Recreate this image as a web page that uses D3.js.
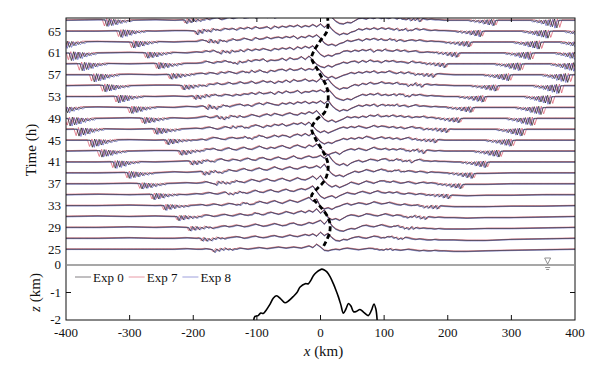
<!DOCTYPE html>
<html>
<head>
<meta charset="utf-8">
<script src="https://cdn.jsdelivr.net/npm/d3@7"></script>
<style>
	body { margin: 0; background: #fff; }
	svg { display: block; }
	text { font-family: "Liberation Serif", "Times New Roman", serif; fill: #111; }
</style>
</head>
<body>
<svg id="chart" width="599" height="366"></svg>
<script>

// ---- data ----

// trace times (h), one trace every 2 h
var times = [25, 27, 29, 31, 33, 35, 37, 39, 41, 43, 45, 47, 49, 51, 53, 55, 57, 59, 61, 63, 65, 67];
var timeTicks = [25, 29, 33, 37, 41, 45, 49, 53, 57, 61, 65];
var xTicks = [-400, -300, -200, -100, 0, 100, 200, 300, 400];
var zTicks = [0, -1, -2];

var expNames = ['Exp 0', 'Exp 7', 'Exp 8'];
var expColors = ['#2e2a30', '#d9566a', '#5f63c4'];
// relative stretch of each experiment's wave field (fronts travel a bit faster / slower)
var expStretch = [0, 0.012, -0.008];

// x stations (km) where the surface signal was read
var wigGrid = [-400, -350, -300, -260, -230, -210, -195,
	-186, -180, -174, -168, -162, -156, -150, -144, -138, -132,
	-126, -120, -114, -108, -102, -96, -90, -84, -78, -72,
	-66, -60, -54, -48, -42, -36, -30, -24, -18, -12,
	-6, 0, 6, 12, 18, 24, 30, 36, 42, 48,
	54, 60, 66, 72, 78, 84, 90, 96, 102, 108,
	114, 120, 126, 132, 138, 144, 150, 156, 162, 168,
	174, 180, 186,
	195, 210, 230, 260, 300, 350, 400];

// surface signal of Exp 0 at those stations, one row per trace (0.1 h units)
var wiggles = [
	[0,0,0,0,0,1,0, 0,1,0,-1,0,1,2,1,0,1, 2,1,0,1,2,3,2,1,2,3, 4,3,2,3,4,3,2,4,6,3, 9,4,-2,-3,-1,0,-1,1,2,1, 0,-1,0,1,2,1,0,-1,0,1, 0,-1,-2,-1,0,-1,-2,-3,-2,-3, -3,-2,-3, -3,-4,-4,-3,-2,-1,0],
	[0,0,1,0,0,1,0, 1,0,-1,0,2,1,0,1,2,3, 2,0,1,3,4,2,1,2,4,5, 3,2,4,6,4,3,5,7,5,8, 4,11,5,9,1,-4,-5,-2,-3,0, 2,3,1,0,2,4,3,1,2,4, 3,1,0,2,1,-1,-2,-1,-2,-3, -3,-2,-3, -3,-3,-4,-4,-2,-1,0],
	[0,0,1,0,1,0,1, 0,2,1,-1,0,2,3,1,2,4, 3,1,2,4,6,4,2,3,5,7, 5,3,4,7,8,5,4,6,9,7, 10,13,6,14,3,-3,-6,-7,-4,-2, -3,0,3,4,2,1,3,5,3,1, 2,4,2,0,-1,1,0,-2,-1,-2, -2,-3,-2, -3,-3,-3,-2,-2,-1,0],
	[0,1,0,1,0,1,0, 1,3,2,0,1,3,4,2,1,3, 5,3,2,4,7,5,3,6,8,6, 4,6,9,7,5,8,10,7,11,8, 14,6,12,-2,-6,-4,-7,-3,1,3, 2,0,2,5,4,2,1,3,5,3, 1,3,2,0,-1,1,2,0,-1,0, -1,-2,-1, -2,-2,-3,-2,-2,-1,0],
	[0,0,1,0,1,0,1, 2,0,1,3,2,0,2,4,3,1, 3,6,4,2,5,8,6,4,7,9, 6,4,7,10,8,6,9,12,15,8, 12,-2,-6,-4,-7,-3,-1,2,4,1, 3,5,4,2,4,7,5,3,4,6, 4,2,1,3,1,0,2,1,-1,-1, 0,-1,0, -1,-2,-2,-2,-1,-1,0],
	[0,1,0,1,1,0,2, 1,3,4,2,1,3,5,3,2,4, 6,4,3,6,8,5,4,7,9,6, 5,8,10,7,6,9,11,9,12,16, 6,-3,-7,-4,-2,-6,-2,1,4,2, 1,4,6,4,2,5,7,4,3,5, 3,5,2,1,3,2,0,2,1,0, 1,0,1, 0,-1,-2,-1,-1,0,0],
	[0,0,1,0,1,2,1, 2,4,2,0,3,5,3,2,4,6, 4,2,5,8,6,4,7,9,6,5, 8,10,7,5,8,11,8,7,10,14, 8,15,5,-2,-6,-3,-7,-4,-1,3, 1,-1,2,5,3,1,4,6,5,3, 5,3,1,2,4,2,0,2,3,1, 2,1,0, 0,-1,-1,-1,0,0,0],
	[0,0,1,0,2,1,2, 3,1,2,5,3,1,3,6,4,3, 6,8,5,4,7,9,6,5,8,11, 8,6,9,11,8,7,10,12,9,10, 13,9,16,6,-2,-6,-4,-7,-3,0, 3,1,3,6,4,2,5,7,5,3, 4,6,4,2,4,3,1,3,2,0, 2,1,1, 0,0,-1,-1,0,0,0],
	[0,0,1,0,1,2,1, 2,5,3,1,4,6,3,2,5,4, 2,5,7,4,3,7,8,5,4,7, 9,6,5,8,11,7,6,9,11,8, 9,12,7,14,4,-3,-6,-3,-7,-2, 1,3,0,2,5,4,2,5,6,3, 3,6,4,2,4,1,3,5,2,2, 1,2,1, 1,0,0,0,0,0,0],
	[0,1,0,1,1,0,2, 1,4,3,5,2,1,4,6,3,2, 5,7,4,3,6,9,6,4,7,5, 8,10,7,5,9,11,8,6,11,8, 13,6,-3,-7,-4,-2,-6,-1,2,4, 2,5,3,1,4,7,4,3,5,2, 4,2,5,3,1,2,4,2,0,2, 1,0,1, 0,0,0,0,0,0,0],
	[0,0,1,0,1,1,0, 2,0,3,5,4,2,1,4,5,3, 4,7,5,3,6,9,7,4,6,9, 6,9,8,5,9,11,8,12,8,14, 5,-3,-7,-4,-6,-2,0,3,1,4, 2,5,3,7,5,2,4,6,3,5, 2,4,1,3,5,2,3,1,2,1, 2,1,1, 0,0,0,0,0,0,0],
	[0,1,0,1,0,1,2, 1,3,4,2,0,2,5,3,6,4, 7,4,3,6,8,6,3,7,5,9, 7,10,6,8,11,9,12,8,13,6, -2,-6,-3,-7,-4,-1,2,4,2,5, 3,6,4,2,4,7,4,6,5,3, 5,2,4,1,3,5,2,3,0,2, 1,2,1, 1,0,0,0,0,0,0],
	[0,0,1,0,1,0,1, 3,4,1,2,5,3,1,4,6,3, 5,2,4,7,5,3,6,8,5,9, 7,5,8,10,7,6,10,8,12,9, 14,6,-2,-6,-3,-7,-4,-1,3,1, 3,1,4,2,6,4,7,3,5,4, 6,3,5,2,4,1,3,2,4,1, 2,1,1, 0,0,0,0,0,0,0],
	[0,1,0,1,0,2,1, 3,1,4,2,0,4,5,2,3,5, 6,3,5,2,6,8,5,9,7,5, 4,8,6,9,6,10,8,11,7,10, 8,12,7,13,3,-3,-7,-4,-6,-2, 1,4,2,5,3,6,2,6,4,5, 4,6,3,4,1,3,5,2,3,2, 1,2,1, 1,0,0,0,0,0,0],
	[0,0,1,0,1,0,2, 1,4,2,5,3,1,4,3,1,4, 2,5,4,7,4,8,5,6,8,4, 9,6,10,7,8,11,6,9,8,11, 9,12,8,14,6,-2,-5,-7,-4,-6, -2,1,4,2,5,3,6,2,4,2, 5,3,6,3,1,4,2,4,2,1, 2,1,1, 0,0,0,0,0,0,0],
	[0,1,0,1,1,0,1, 2,0,3,2,5,2,3,6,3,4, 7,4,5,8,4,6,9,6,8,4, 8,6,10,6,11,8,9,12,8,10, 7,13,8,12,3,-3,-7,-4,-5,-1, 2,0,4,2,6,3,4,7,4,5, 3,6,3,4,1,3,5,2,2,3, 1,2,1, 1,0,0,0,0,0,0],
	[0,0,1,0,1,1,2, 3,1,4,3,1,5,3,6,4,2, 5,7,4,8,5,9,6,4,8,6, 9,10,7,11,8,9,12,8,11,9, 14,7,-2,-6,-3,-7,-4,-1,1,4, 2,5,3,6,4,7,3,5,4,7, 4,2,5,2,5,3,1,3,1,2, 1,1,2, 1,0,0,0,0,0,0],
	[0,1,0,1,0,1,1, 2,5,3,1,4,3,6,3,4,1, 5,3,7,5,8,6,9,4,7,6, 7,10,6,11,8,9,13,8,14,7, -1,-5,-7,-3,-6,-2,0,3,1,4, 5,2,6,3,7,4,5,2,6,4, 6,3,4,3,1,5,2,3,2,1, 2,1,1, 0,0,0,0,0,0,0],
	[0,0,1,0,1,0,2, 1,4,2,5,1,3,5,2,5,3, 6,3,7,4,7,5,8,6,4,8, 6,9,7,10,6,11,8,12,9,13, 5,-3,-7,-4,-6,-2,-1,3,4,2, 5,3,6,4,7,2,6,4,7,4, 3,6,3,5,2,3,4,1,1,2, 1,2,1, 1,0,0,0,0,0,0],
	[0,1,0,1,0,1,1, 4,2,5,3,1,5,2,3,6,3, 4,7,5,3,8,5,6,9,6,8, 9,7,10,8,11,6,10,8,12,9, 13,7,-2,-6,-4,-7,-3,-1,3,1, 3,5,2,6,4,7,4,6,3,6, 5,3,4,1,3,4,2,4,2,1, 2,1,1, 0,0,0,0,0,0,0],
	[0,0,1,0,1,1,0, 2,4,1,5,3,2,5,3,5,2, 6,4,7,4,8,5,6,8,4,9, 6,9,7,10,8,11,7,10,8,12, 8,13,7,12,3,-3,-7,-4,-6,-2, 0,4,2,5,3,6,3,6,4,6, 3,5,2,5,3,1,5,2,4,2, 1,2,1, 1,0,0,0,0,0,0],
	[0,1,0,1,0,1,2, 1,4,2,4,5,1,3,6,3,5, 7,4,5,8,4,6,9,5,8,4, 7,10,8,11,6,9,8,11,9,12, 9,12,8,14,5,-2,-6,-7,-4,-5, -1,3,4,2,5,3,6,3,5,3, 6,3,5,2,4,2,4,2,3,1, 2,1,1, 0,0,0,0,0,0,0]
];

// leading front (km) and depth (0.1 h units) of the wave trains travelling west / east
var leftPackets = [
	[[-170,5]], [[-189,6]], [[-208,7]], [[-226,8],[-111,1]], [[-247,9],[-129,2]],
	[[-265,10],[-148,3]], [[-284,10],[-167,5]], [[-304,11],[-186,6]], [[-326,12],[-205,7]],
	[[-347,12],[-222,8]], [[-362,13],[-243,9],[-125,2]], [[-383,13],[-261,10],[-144,3]],
	[[-397,14],[-280,10],[-162,5]], [[-415,14],[-300,11],[-181,6]], [[-321,12],[-200,7]],
	[[-342,12],[-218,8]], [[-359,13],[-238,9],[-122,2]], [[-378,13],[-258,10],[-141,3]],
	[[-395,14],[-275,10],[-160,5]], [[-412,14],[-297,11],[-179,6]], [[-317,12],[-197,7]],
	[[-339,12],[-214,7]]
];
var rightPackets = [
	[[117,2]], [[133,3]], [[150,4]], [[169,5]], [[188,6]], [[205,7]],
	[[224,8],[114,1]], [[242,9],[130,2]], [[263,10],[147,3]], [[284,11],[166,5]],
	[[303,11],[184,6]], [[320,12],[202,7]], [[336,13],[221,8],[111,1]],
	[[350,13],[240,9],[127,2]], [[364,14],[259,10],[144,3]], [[378,14],[279,10],[163,5]],
	[[392,14],[299,11],[181,6]], [[405,14],[317,12],[199,7]],
	[[413,14],[333,12],[218,8],[108,1]], [[421,14],[347,13],[237,9],[123,2]],
	[[428,14],[361,13],[255,10],[141,3]], [[375,14],[276,10],[160,5]]
];
// shape of one wave train behind its front: distance (km), relative depth
var packetDx = [0, 3.5, 7, 10.5, 14, 17.5, 21, 24.5, 28, 31.5, 35, 38.5, 42];
var packetDz = [0, -1, 0.15, -0.85, 0.1, -0.7, 0.05, -0.5, 0, -0.35, 0, -0.2, 0];

// tidal excursion (dashed curve)
var tideT = [25.6, 27.9, 29.5, 30.8, 32.9, 34.0, 34.8, 36.0, 37.5, 39.0, 40.5, 42.0, 43.5, 45.5, 47.2, 48.8, 50.0, 51.5, 53.3, 55.0, 56.5, 58.2, 60.0, 61.2, 63.1, 64.9, 66.5, 67.4];
var tideX = [5, 14, 15, 12, -1, -10, -14, -6, 6, 11, 12, 8, 1, -9, -14, -6, 6, 11, 12, 9, 2, -6, -14, -11, -1, 10, 12, 11];

// topography
var topoX = [-105, -103, -98, -94, -90, -86, -80, -74, -69, -63, -56, -50, -43, -37, -32, -24, -19, -15, -11, -5, -1, 2, 6, 10, 15, 20, 24, 28, 32, 36, 40, 44, 48, 52, 57, 62, 68, 75, 80, 84, 87, 89];
var topoZ = [-2.0, -1.87, -1.84, -1.75, -1.76, -1.66, -1.45, -1.2, -1.12, -1.22, -1.37, -1.3, -1.15, -1.0, -0.8, -0.68, -0.68, -0.55, -0.38, -0.24, -0.18, -0.15, -0.18, -0.25, -0.42, -0.67, -0.9, -1.15, -1.45, -1.75, -1.6, -1.4, -1.5, -1.7, -1.68, -1.62, -1.72, -1.84, -1.65, -1.42, -1.6, -2.0];

var seaMarkX = 357;

// ---- layout ----
var plotL = 66, plotR = 575, plotT = 18, plotMid = 265, plotB = 320;
var ampScale = 0.1; // eta unit -> hours on the time axis
var expLift = [0, 0.07, -0.07]; // small vertical split so the three runs stay visible

var svg = d3.select('#chart');

var x = d3.scaleLinear().domain([-400, 400]).range([plotL, plotR]);
var yT = d3.scaleLinear().domain([22.1, 67.4]).range([plotMid, plotT]);
var yZ = d3.scaleLinear().domain([-2, 0]).range([plotB, plotMid]);

/**
 * Linear interpolation in sorted arrays
 */
var interp = function(xs, ys, v) {
	if (v <= xs[0]) return ys[0];
	var n = xs.length;
	if (v >= xs[n - 1]) return ys[n - 1];
	var i = d3.bisectRight(xs, v) - 1;
	var f = (v - xs[i]) / (xs[i + 1] - xs[i]);
	return ys[i] + f * (ys[i + 1] - ys[i]);
};

var packetAt = function(front, depth, dir, v) {
	var behind = (front - v) * dir;
	if (behind < 0 || behind > packetDx[packetDx.length - 1]) return 0;
	return depth * interp(packetDx, packetDz, behind);
};

var etaAt = function(row, v) {
	var e = interp(wigGrid, wiggles[row], v);
	leftPackets[row].forEach(function(p) { e += packetAt(p[0], p[1], -1, v); });
	rightPackets[row].forEach(function(p) { e += packetAt(p[0], p[1], 1, v); });
	return e;
};

// clip for the traces
svg.append('clipPath').attr('id', 'topClip')
	.append('rect').attr('x', plotL).attr('y', plotT).attr('width', plotR - plotL).attr('height', plotMid - plotT);

var traces = svg.append('g').attr('clip-path', 'url(#topClip)');

var traceLine = d3.line().x(function(d) { return x(d[0]); }).y(function(d) { return yT(d[1]); });

var samples = d3.range(-400, 400.01, 0.5);

// Exp 7 and Exp 8 first, Exp 0 on top
times.forEach(function(t, row) {
	[1, 2, 0].forEach(function(e) {
		var s = 1 + expStretch[e];
		var pts = samples.map(function(v) { return [v, t + expLift[e] + etaAt(row, v / s) * ampScale]; });
		traces.append('path').datum(pts)
			.attr('d', traceLine)
			.style('fill', 'none')
			.style('stroke', expColors[e])
			.style('stroke-width', e == 0 ? 1 : 1)
			.style('stroke-opacity', e == 0 ? 0.85 : 0.8)
			.style('stroke-linejoin', 'round');
	});
});

// tidal excursion curve
var tideLine = d3.line()
	.x(function(d, i) { return x(tideX[i]); })
	.y(function(d) { return yT(d); })
	.curve(d3.curveCatmullRom);

traces.append('path').datum(tideT)
	.attr('d', tideLine)
	.style('fill', 'none')
	.style('stroke', '#000')
	.style('stroke-width', 2.8)
	.style('stroke-dasharray', '5,3');

// topography
var topoLine = d3.line()
	.x(function(d) { return x(d); })
	.y(function(d, i) { return yZ(topoZ[i]); })
	.curve(d3.curveCatmullRom);

svg.append('path').datum(topoX)
	.attr('d', topoLine)
	.style('fill', 'none')
	.style('stroke', '#000')
	.style('stroke-width', 1.6);

// frame
svg.append('rect')
	.attr('x', plotL).attr('y', plotT).attr('width', plotR - plotL).attr('height', plotB - plotT)
	.style('fill', 'none').style('stroke', '#111').style('stroke-width', 1);

svg.append('line')
	.attr('x1', plotL).attr('x2', plotR).attr('y1', yZ(0)).attr('y2', yZ(0))
	.style('stroke', '#8a8a8a').style('stroke-width', 1.6);

// ticks
var inner = xTicks.slice(1, -1);
svg.selectAll('.tickTop').data(inner).enter().append('line')
	.attr('x1', function(d) { return x(d); }).attr('x2', function(d) { return x(d); })
	.attr('y1', plotT).attr('y2', plotT + 4)
	.style('stroke', '#111');
svg.selectAll('.tickBottom').data(inner).enter().append('line')
	.attr('x1', function(d) { return x(d); }).attr('x2', function(d) { return x(d); })
	.attr('y1', plotB).attr('y2', plotB - 5)
	.style('stroke', '#111');
svg.selectAll('.tickZ').data([-1]).enter().append('path')
	.attr('d', function(d) {
		return 'M' + plotL + ',' + yZ(d) + 'h5M' + plotR + ',' + yZ(d) + 'h-5';
	})
	.style('stroke', '#111');

// tick labels
svg.selectAll('.xLabel').data(xTicks).enter().append('text')
	.attr('x', function(d) { return x(d); })
	.attr('y', 337)
	.attr('text-anchor', 'middle')
	.style('font-size', '13px')
	.text(function(d) { return d; });

svg.selectAll('.tLabel').data(timeTicks).enter().append('text')
	.attr('x', plotL - 5)
	.attr('y', function(d) { return yT(d) + 4.5; })
	.attr('text-anchor', 'end')
	.style('font-size', '13px')
	.text(function(d) { return d; });

svg.selectAll('.zLabel').data(zTicks).enter().append('text')
	.attr('x', plotL - 5)
	.attr('y', function(d) { return yZ(d) + 4; })
	.attr('text-anchor', 'end')
	.style('font-size', '13px')
	.text(function(d) { return d; });

// axis titles
svg.append('text')
	.attr('transform', 'translate(36,150) rotate(-90)')
	.attr('text-anchor', 'middle')
	.style('font-size', '15px')
	.text('Time (h)');

var zTitle = svg.append('text')
	.attr('transform', 'translate(40,' + yZ(-1) + ') rotate(-90)')
	.attr('text-anchor', 'middle')
	.style('font-size', '15px');
zTitle.append('tspan').style('font-style', 'italic').text('z');
zTitle.append('tspan').text(' (km)');

var xTitle = svg.append('text')
	.attr('x', x(0) + 3)
	.attr('y', 356)
	.attr('text-anchor', 'middle')
	.style('font-size', '15px');
xTitle.append('tspan').style('font-style', 'italic').text('x');
xTitle.append('tspan').text(' (km)');

// legend
var legend = svg.append('g').attr('transform', 'translate(75,' + (yZ(0) + 12) + ')');
var lx = 0;
expNames.forEach(function(name, i) {
	legend.append('line')
		.attr('x1', lx).attr('x2', lx + 16).attr('y1', 0).attr('y2', 0)
		.style('stroke', expColors[i]).style('stroke-width', 1).style('stroke-opacity', 0.6);
	var txt = legend.append('text')
		.attr('x', lx + 18).attr('y', 4.5)
		.style('font-size', '13px')
		.text(name);
	lx += 18 + txt.node().getComputedTextLength() + 5;
});

// sea level mark
var sx = x(seaMarkX), sy = yZ(0);
svg.append('path')
	.attr('d', 'M' + (sx - 3) + ',' + (sy - 7) + 'h6l-3,6z')
	.style('fill', 'none').style('stroke', '#777').style('stroke-width', 0.8);
svg.append('path')
	.attr('d', 'M' + (sx - 2.5) + ',' + (sy + 2.5) + 'h5M' + (sx - 1.5) + ',' + (sy + 4.5) + 'h3')
	.style('stroke', '#777').style('stroke-width', 0.8);

</script>
</body>
</html>
